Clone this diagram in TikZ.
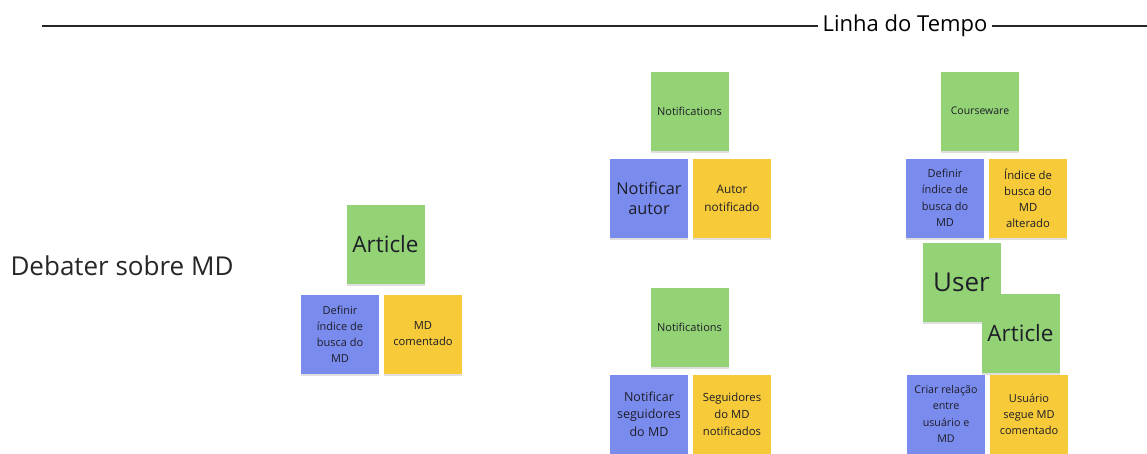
\documentclass[tikz,border=0pt]{standalone}
\usepackage{fontspec}
\setmainfont{Open Sans}
\usetikzlibrary{shadows}

\definecolor{notegreen}{RGB}{147,211,118}
\definecolor{noteblue}{RGB}{122,139,238}
\definecolor{noteyellow}{RGB}{246,202,56}
\definecolor{notetext}{RGB}{30,30,40}

\begin{document}
\begin{tikzpicture}[x=1pt,y=-1pt,
        note/.style={minimum width=78pt,minimum height=79pt,inner sep=1pt,align=center,
            text=notetext,drop shadow={shadow xshift=0pt,shadow yshift=-2pt,opacity=0.25}},
        grn/.style={note,fill=notegreen},
        blu/.style={note,fill=noteblue},
        ylw/.style={note,fill=noteyellow}]
    \path[use as bounding box,fill=white] (0,0) rectangle (1147,453);

    % linha do tempo
    \coordinate (t0) at (42,26);
    \coordinate (t1) at (1147,26);
    \node[font=\fontsize{22}{26}\selectfont,inner sep=4pt] (tl) at (905,26) {Linha do Tempo};
    \draw[line width=1.1pt,black!85] (t0) -- (tl.west);
    \draw[line width=1.1pt,black!85] (tl.east) -- (t1);

    \node[font=\fontsize{26}{30}\selectfont,anchor=west,text=black!85] (deb) at (7,266) {Debater sobre MD};

    % coluna 1
    \node[grn,font=\fontsize{22.5}{26}\selectfont] (art1) at (385.5,244) {Article};
    \node[blu,font=\fontsize{11}{16}\selectfont] (def1) at (340,334) {Definir\\índice de\\busca do\\MD};
    \node[ylw,font=\fontsize{11.2}{16}\selectfont] (com1) at (423,334) {MD\\comentado};

    % coluna 2
    \node[grn,font=\fontsize{11}{14}\selectfont] (not1) at (689.5,111) {Notifications};
    \node[blu,font=\fontsize{16.3}{20}\selectfont] (aut1) at (649,198) {Notificar\\autor};
    \node[ylw,font=\fontsize{11.8}{18}\selectfont] (aut2) at (732,198) {Autor\\notificado};

    \node[grn,font=\fontsize{11}{14}\selectfont] (not2) at (689.5,327) {Notifications};
    \node[blu,font=\fontsize{12.5}{17.5}\selectfont] (seg1) at (649,414) {Notificar\\seguidores\\do MD};
    \node[ylw,font=\fontsize{11.3}{17}\selectfont] (seg2) at (732,414) {Seguidores\\do MD\\notificados};

    % coluna 3
    \node[grn,font=\fontsize{10.5}{14}\selectfont] (crs) at (980,111) {Courseware};
    \node[blu,font=\fontsize{11}{16.5}\selectfont] (def2) at (945,198) {Definir\\índice de\\busca do\\MD};
    \node[ylw,font=\fontsize{11.3}{16}\selectfont] (alt) at (1028,198) {Índice de\\busca do\\MD\\alterado};

    \node[grn,font=\fontsize{26}{30}\selectfont] (usr) at (961.5,282.5) {User};
    \node[grn,font=\fontsize{22.5}{26}\selectfont] (art2) at (1020.5,333) {Article};
    \node[blu,font=\fontsize{10.7}{16.5}\selectfont] (rel) at (946,414) {Criar relação\\entre\\usuário e\\MD};
    \node[ylw,font=\fontsize{11}{16}\selectfont] (segue) at (1029,414) {Usuário\\segue MD\\comentado};
\end{tikzpicture}
\end{document}
